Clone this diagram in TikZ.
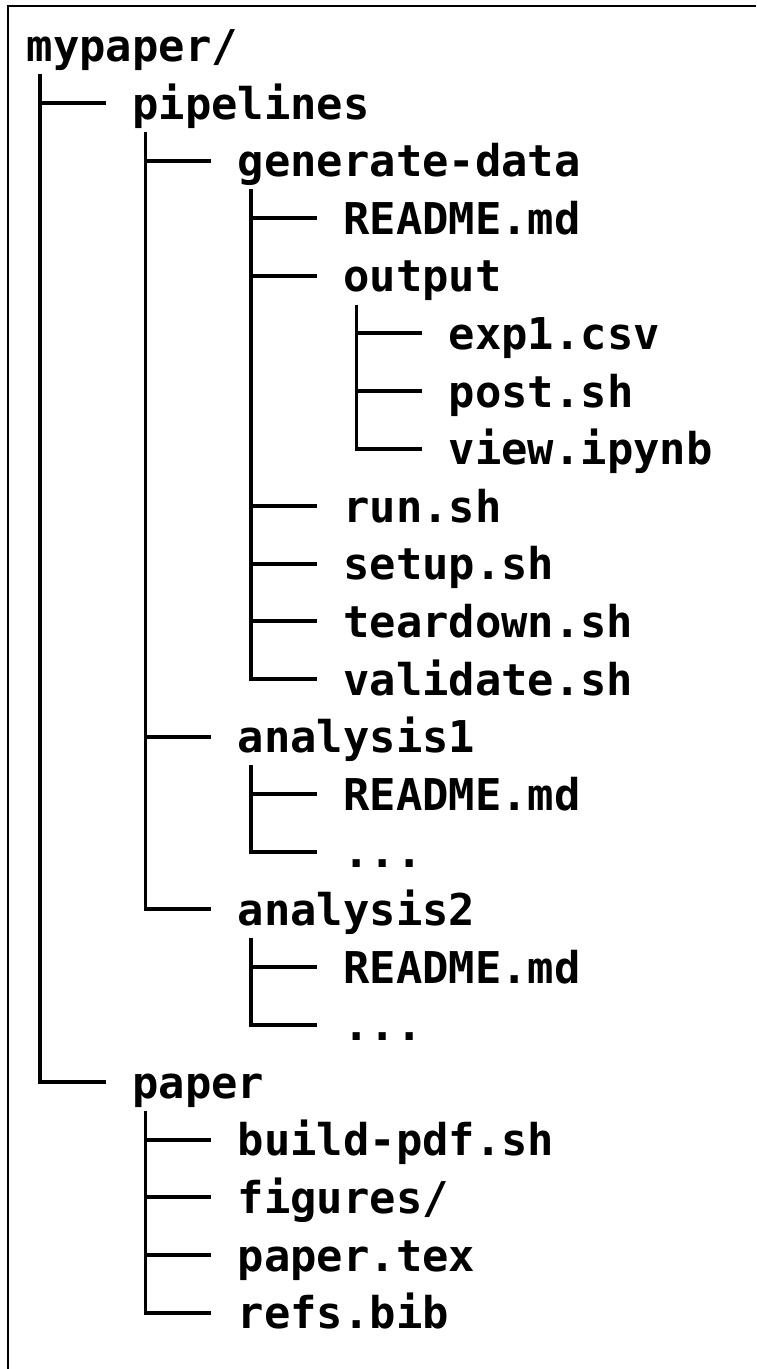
\documentclass[tikz,border=0pt]{standalone}
\usepackage{fontspec}
\setmonofont{DejaVu Sans Mono}
\usetikzlibrary{calc}
\tikzset{
  fname/.style={anchor=base west, inner sep=0pt, outer sep=0pt, font=\fontsize{43.8}{52}\selectfont\ttfamily\bfseries},
  treeline/.style={line width=3.9pt, line join=miter, line cap=butt},
  frameline/.style={line width=2.2pt}
}
\begin{document}
\begin{tikzpicture}[x=1pt,y=1pt]
\useasboundingbox (0,0) rectangle (756,-1369);
\fill[white] (0,0) rectangle (756,-1369);
% frame (only top and left edges are visible)
\coordinate (fbl) at (7.7,-1369);
\coordinate (ftl) at (7.7,-6.2);
\coordinate (ftr) at (756,-6.2);
\draw[frameline] (fbl) -- (ftl) -- (ftr);
% names
\node[fname] (root)      at (26.8,-61.4)   {mypaper/};
\node[fname] (pipe)      at (132.3,-119.0) {pipelines};
\node[fname] (gen)       at (237.8,-176.6) {generate-data};
\node[fname] (genreadme) at (343.3,-234.2) {README.md};
\node[fname] (out)       at (343.3,-291.8) {output};
\node[fname] (exp)       at (448.8,-349.4) {exp1.csv};
\node[fname] (post)      at (448.8,-407.0) {post.sh};
\node[fname] (view)      at (448.8,-464.6) {view.ipynb};
\node[fname] (run)       at (343.3,-522.2) {run.sh};
\node[fname] (setup)     at (343.3,-579.8) {setup.sh};
\node[fname] (tear)      at (343.3,-637.4) {teardown.sh};
\node[fname] (valid)     at (343.3,-695.0) {validate.sh};
\node[fname] (anA)       at (237.8,-752.6) {analysis1};
\node[fname] (anAreadme) at (343.3,-810.2) {README.md};
\node[fname] (anAdots)   at (343.3,-867.8) {...};
\node[fname] (anB)       at (237.8,-925.4) {analysis2};
\node[fname] (anBreadme) at (343.3,-983.0) {README.md};
\node[fname] (anBdots)   at (343.3,-1040.6) {...};
\node[fname] (paper)     at (132.3,-1098.2) {paper};
\node[fname] (build)     at (237.8,-1155.8) {build-pdf.sh};
\node[fname] (figs)      at (237.8,-1213.4) {figures/};
\node[fname] (ptex)      at (237.8,-1271.0) {paper.tex};
\node[fname] (refs)      at (237.8,-1328.6) {refs.bib};
% connectors: vertical + last child (corner)
\newcommand{\trunk}[2]{\draw[treeline] ([xshift=13.2pt,yshift=-12.8pt]#1.base west) |- ([xshift=-26.4pt,yshift=16pt]#2.base west);}
\newcommand{\branch}[2]{\draw[treeline] ($(#1.base west |- #2.base west)+(13.2,16)$) -- ($(#2.base west)+(-26.4,16)$);}
\trunk{root}{paper}
\branch{root}{pipe}
\trunk{pipe}{anB}
\branch{pipe}{gen}
\branch{pipe}{anA}
\trunk{gen}{valid}
\branch{gen}{genreadme}
\branch{gen}{out}
\branch{gen}{run}
\branch{gen}{setup}
\branch{gen}{tear}
\trunk{out}{view}
\branch{out}{exp}
\branch{out}{post}
\trunk{anA}{anAdots}
\branch{anA}{anAreadme}
\trunk{anB}{anBdots}
\branch{anB}{anBreadme}
\trunk{paper}{refs}
\branch{paper}{build}
\branch{paper}{figs}
\branch{paper}{ptex}
\end{tikzpicture}
\end{document}
